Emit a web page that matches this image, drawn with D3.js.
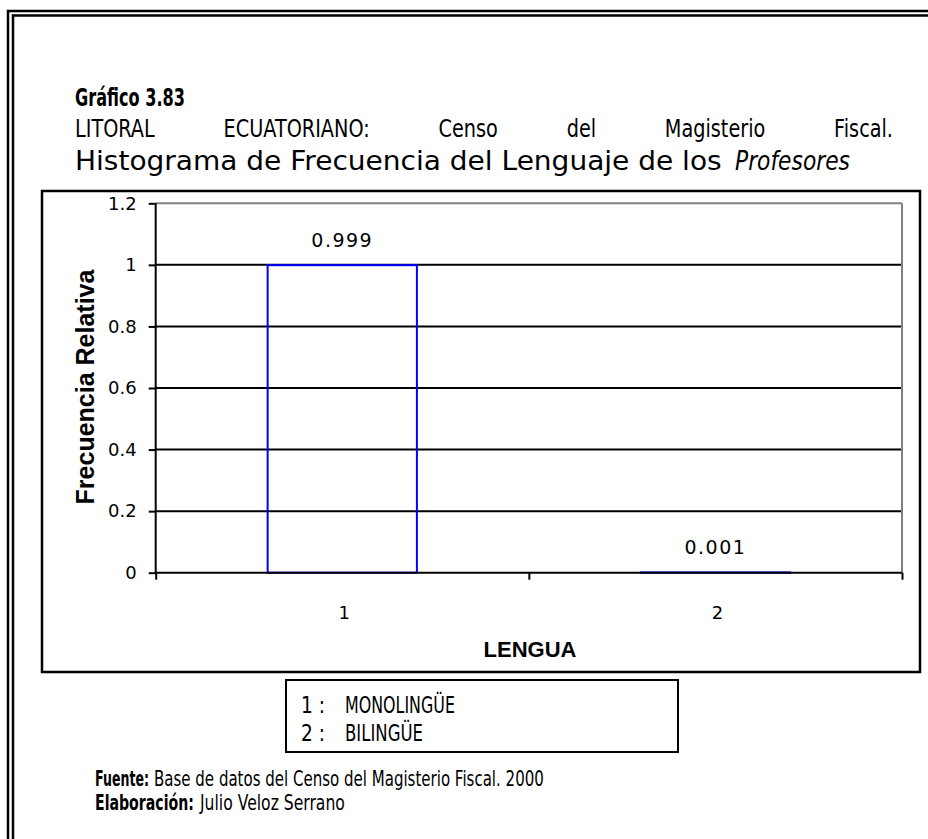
<!DOCTYPE html>
<html>
<head>
<meta charset="utf-8">
<script src="https://cdn.jsdelivr.net/npm/d3@7"></script>
<style>
  html, body { margin: 0; padding: 0; background: #fff; }
  svg { display: block; }
</style>
</head>
<body>
<div id="chart"></div>
<script>
/* Histograma de frecuencia relativa (Gráfico 3.83), drawn with d3. */

const categories = ["1", "2"];
const values = [0.999, 0.001];
const valueLabels = ["0.999", "0.001"];
const yTicks = [0, 0.2, 0.4, 0.6, 0.8, 1, 1.2];
const yTickLabels = ["0", "0.2", "0.4", "0.6", "0.8", "1", "1.2"];
const legendCodes = ["1", "2"];
const legendNames = ["MONOLINGÜE", "BILINGÜE"];

const W = 928, H = 839;
const svg = d3.select("#chart").append("svg").attr("width", W).attr("height", H);

// page frame: double line
svg.append("rect").attr("x", 8).attr("y", 11).attr("width", 940).attr("height", 850)
  .attr("fill", "none").attr("stroke", "#000").attr("stroke-width", 2.5);
svg.append("rect").attr("x", 13).attr("y", 15.5).attr("width", 940).attr("height", 850)
  .attr("fill", "none").attr("stroke", "#000").attr("stroke-width", 2.5);

// condensed text: a text inside a group scaled horizontally to a target width
function squeezed(parent, x, y, str, size, target, style) {
  const grp = parent.append("g");
  const t = grp.append("text").attr("x", 0).attr("y", 0)
    .attr("font-family", "DejaVu Sans, Verdana, sans-serif").attr("font-size", size)
    .attr("font-weight", style === "bold" ? "bold" : null)
    .attr("font-style", style === "italic" ? "italic" : null)
    .text(str);
  const natural = t.node().getComputedTextLength();
  const sx = target / natural;
  grp.attr("transform", `translate(${x},${y}) scale(${sx},1)`);
  return target;
}

// heading
squeezed(svg, 75, 106, "Gráfico 3.83", 25, 110, "bold");

// justified second line
(function () {
  const words = "LITORAL ECUATORIANO: Censo del Magisterio Fiscal.".split(" ");
  const g = svg.append("g");
  const x0 = 75, x1 = 893;
  const widths = words.map((w) => {
    const tmp = g.append("text").attr("font-family", "DejaVu Sans, sans-serif")
      .attr("font-size", 25).text(w);
    const n = tmp.node().getComputedTextLength() * 0.77;
    tmp.remove();
    return n;
  });
  const gap = (x1 - x0 - d3.sum(widths)) / (words.length - 1);
  let cx = x0;
  words.forEach((w, i) => {
    squeezed(g, cx, 137, w, 25, widths[i]);
    cx += widths[i] + gap;
  });
})();

squeezed(svg, 75, 170, "Histograma de Frecuencia del Lenguaje de los", 27, 647);
squeezed(svg, 735, 170, "Profesores", 27, 115, "italic");

// chart box
svg.append("rect").attr("x", 42).attr("y", 191).attr("width", 878).attr("height", 481)
  .attr("fill", "#fff").attr("stroke", "#000").attr("stroke-width", 2.5);

const plot = { left: 155.7, right: 902, top: 203.3, bottom: 572.7 };

const y = d3.scaleLinear().domain([0, 1.2]).range([plot.bottom, plot.top]);
const x = d3.scaleBand().domain(categories).range([plot.left, plot.right]).padding(0);
const xEdge = d3.scaleLinear().domain([0, categories.length]).range([plot.left, plot.right]);
const barW = x.bandwidth() / 2.5;

const g = svg.append("g");

// gridlines
g.append("g").selectAll("line").data(yTicks.filter((d) => d > 0)).join("line")
  .attr("x1", plot.left).attr("x2", plot.right)
  .attr("y1", (d) => y(d)).attr("y2", (d) => y(d))
  .attr("stroke", (d) => (d === 1.2 ? "#808080" : "#000"))
  .attr("stroke-width", 2);

// right plot border
g.append("line").attr("x1", plot.right).attr("x2", plot.right)
  .attr("y1", plot.top).attr("y2", plot.bottom)
  .attr("stroke", "#808080").attr("stroke-width", 2);

// bars (outline only)
g.append("g").selectAll("rect").data(values).join("rect")
  .attr("x", (d, i) => x(categories[i]) + (x.bandwidth() - barW) / 2)
  .attr("y", (d) => y(d))
  .attr("width", barW)
  .attr("height", (d) => plot.bottom - y(d))
  .attr("fill", "none").attr("stroke", "#0000ff").attr("stroke-width", 2);

// y axis
const yAxis = g.append("g").attr("transform", `translate(${plot.left},0)`)
  .call(d3.axisLeft(y).tickValues(yTicks).tickSize(7).tickPadding(12)
    .tickFormat((d, i) => yTickLabels[i]));
yAxis.select(".domain").attr("stroke", "#000").attr("stroke-width", 2)
  .attr("d", `M0,${plot.bottom}V${plot.top}`);
yAxis.selectAll(".tick line").attr("stroke", "#000").attr("stroke-width", 2);
yAxis.selectAll(".tick text").attr("font-family", "DejaVu Sans, Verdana, sans-serif")
  .attr("font-size", 18).attr("fill", "#000");

// x axis (ticks between categories), drawn over the bars
const xAxis = g.append("g").attr("transform", `translate(0,${plot.bottom})`)
  .call(d3.axisBottom(xEdge).tickValues(d3.range(categories.length + 1)).tickSize(7)
    .tickFormat(""));
xAxis.select(".domain").attr("stroke", "#000").attr("stroke-width", 2)
  .attr("d", `M${plot.left},0H${plot.right}`);
xAxis.selectAll(".tick line").attr("stroke", "#000").attr("stroke-width", 2);

g.append("g").selectAll("text").data(categories).join("text")
  .attr("x", (d) => x(d) + x.bandwidth() / 2 + 2)
  .attr("y", 619)
  .attr("text-anchor", "middle")
  .attr("font-family", "DejaVu Sans, Verdana, sans-serif").attr("font-size", 18)
  .text((d) => d);

// value labels
g.append("g").selectAll("text").data(values).join("text")
  .attr("x", (d, i) => x(categories[i]) + x.bandwidth() / 2)
  .attr("y", (d) => y(d) - 18)
  .attr("text-anchor", "middle")
  .attr("font-family", "DejaVu Sans, Verdana, sans-serif").attr("font-size", 19)
  .attr("letter-spacing", 1.5)
  .text((d, i) => valueLabels[i]);

// axis titles
g.append("text").attr("transform", `translate(94,387) rotate(-90)`)
  .attr("text-anchor", "middle")
  .attr("font-family", "Liberation Sans, Arial, sans-serif").attr("font-weight", "bold")
  .attr("font-size", 25).text("Frecuencia Relativa");
g.append("text").attr("x", 530).attr("y", 657).attr("text-anchor", "middle")
  .attr("font-family", "Liberation Sans, Arial, sans-serif").attr("font-weight", "bold")
  .attr("font-size", 22).text("LENGUA");

// legend box
const leg = svg.append("g");
leg.append("rect").attr("x", 286).attr("y", 680).attr("width", 392).attr("height", 72)
  .attr("fill", "#fff").attr("stroke", "#000").attr("stroke-width", 2);
legendCodes.forEach((c, i) => {
  const yy = 713 + i * 28;
  squeezed(leg, 301, yy, c + " :", 23, 24);
  squeezed(leg, 345, yy, legendNames[i], 23, i === 0 ? 110 : 78);
});

// footer: bold key and plain text as separate runs
const foot = svg.append("g");
squeezed(foot, 95, 786, "Fuente:", 22, 54, "bold");
squeezed(foot, 154, 786, "Base de datos del Censo del Magisterio Fiscal. 2000", 22, 390);
squeezed(foot, 95, 810, "Elaboración:", 22, 99, "bold");
squeezed(foot, 200, 810, "Julio Veloz Serrano", 22, 145);
</script>
</body>
</html>
